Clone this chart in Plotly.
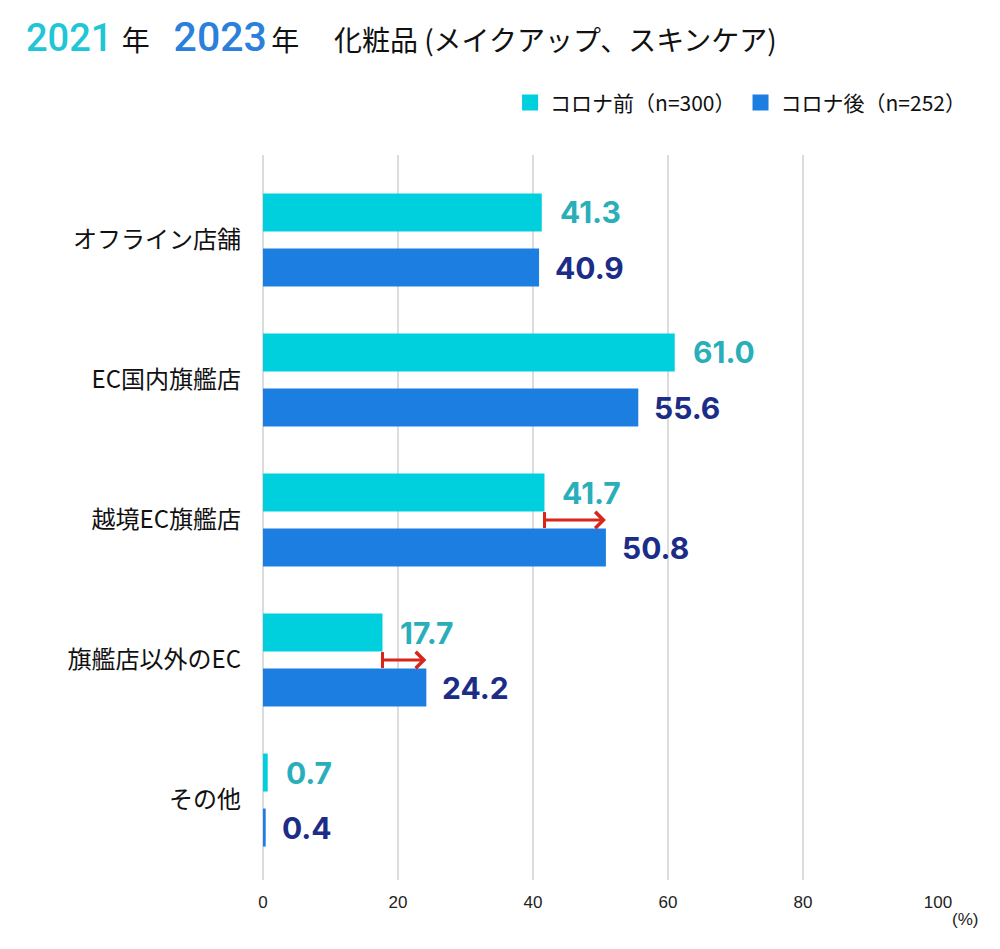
import plotly.graph_objects as go

categories = ["オフライン店舗", "EC国内旗艦店", "越境EC旗艦店", "旗艦店以外のEC", "その他"]
before_vals = [41.3, 61.0, 41.7, 17.7, 0.7]
after_vals = [40.9, 55.6, 50.8, 24.2, 0.4]
before_name = "コロナ前（n=300）"
after_name = "コロナ後（n=252）"
arrow_categories = ["越境EC旗艦店", "旗艦店以外のEC"]
x_ticks = [0, 20, 40, 60, 80, 100]

CYAN = "#00CFDD"
BLUE = "#1C7EE0"
CYAN_TXT = "#2AAFBA"
NAVY_TXT = "#1B2D86"
RED = "#D8261A"

ypos = list(range(len(categories)))
BARGAP = 0.214
BARGROUPGAP = 0.309
slot = (1 - BARGAP) / 2

fig = go.Figure()
fig.add_trace(go.Bar(y=ypos, x=before_vals, orientation="h", name=before_name,
                     marker=dict(color=CYAN, line_width=0), showlegend=False))
fig.add_trace(go.Bar(y=ypos, x=after_vals, orientation="h", name=after_name,
                     marker=dict(color=BLUE, line_width=0), showlegend=False))
# legend entries with larger square swatches
fig.add_trace(go.Scatter(x=[None], y=[None], mode="markers", name=before_name,
                         marker=dict(symbol="square", size=16, color=CYAN)))
fig.add_trace(go.Scatter(x=[None], y=[None], mode="markers", name=after_name,
                         marker=dict(symbol="square", size=16, color=BLUE)))

annotations = []
num_font = "Inter, Liberation Sans, sans-serif"
for i, (b, a) in enumerate(zip(before_vals, after_vals)):
    annotations.append(dict(x=b, y=i - slot / 2, xref="x", yref="y", text=f"{b:.1f}",
                            showarrow=False, xanchor="left", yanchor="middle", xshift=16,
                            font=dict(family=num_font, size=30, color=CYAN_TXT, weight="bold")))
    annotations.append(dict(x=a, y=i + slot / 2, xref="x", yref="y", text=f"{a:.1f}",
                            showarrow=False, xanchor="left", yanchor="middle", xshift=14,
                            font=dict(family=num_font, size=30, color=NAVY_TXT, weight="bold")))

shapes = []
for cat in arrow_categories:
    i = categories.index(cat)
    b, a = before_vals[i], after_vals[i]
    annotations.append(dict(x=a, y=i, ax=b, ay=i, xref="x", yref="y", axref="x", ayref="y",
                            showarrow=True, arrowhead=4, arrowsize=1.05, arrowwidth=3,
                            arrowcolor=RED, standoff=0, startstandoff=0, text=""))
    shapes.append(dict(type="line", xref="x", yref="y", x0=b, x1=b, y0=i - 0.057, y1=i + 0.057,
                       line=dict(color=RED, width=3)))

annotations.append(dict(x=1.04, y=-0.055, xref="paper", yref="paper", text="(%)",
                        showarrow=False, xanchor="center", yanchor="middle",
                        font=dict(family="Liberation Sans, Arial, sans-serif", size=17, color="#222")))

NB = "\u00a0"
def gap(px):
    return f'<span style="font-size:{px}px">{NB}</span>'

title_text = (f'<span style="color:#1EC6D6;font-size:38px;font-family:Roboto;font-weight:500">2021</span>'
              + gap(28) + gap(14)
              + '<span style="font-size:28px">年</span>'
              + gap(28) + gap(28) + gap(28) + gap(22)
              + f'<span style="color:#2A80DA;font-size:41px;font-family:Roboto;font-weight:500">2023</span>'
              + gap(20)
              + '<span style="font-size:28px">年</span>'
              + gap(28) * 5 + gap(14)
              + '<span style="font-size:28px">化粧品 (メイクアップ、スキンケア)</span>')

fig.update_layout(
    width=1000, height=949,
    margin=dict(l=255, r=70, t=147, b=77),
    paper_bgcolor="white", plot_bgcolor="white",
    font=dict(family="Noto Sans CJK JP, sans-serif", color="#111"),
    barmode="group", bargap=BARGAP, bargroupgap=BARGROUPGAP,
    title=dict(text=title_text, x=0.018, xanchor="left", xref="container",
               y=1 - 33 / 949, yanchor="middle",
               font=dict(size=28, color="#111")),
    legend=dict(orientation="h", x=1.049, xanchor="right", y=1.072, yanchor="middle",
                font=dict(size=21, color="#111"), itemwidth=30, traceorder="normal",
                bgcolor="rgba(0,0,0,0)"),
    xaxis=dict(range=[0, 100], tickvals=x_ticks, ticktext=[str(t) for t in x_ticks],
               showgrid=True, gridcolor="#DCDCDC", gridwidth=2,
               zeroline=True, zerolinecolor="#DCDCDC", zerolinewidth=2,
               showline=False, ticks="", ticklabelstandoff=10,
               tickfont=dict(family="Liberation Sans, Arial, sans-serif", size=17, color="#222")),
    yaxis=dict(range=[4.571, -0.607], tickvals=ypos, ticktext=categories,
               showgrid=False, zeroline=False, showline=False, ticks="",
               ticklabelstandoff=21,
               tickfont=dict(size=24, color="#111")),
    annotations=annotations, shapes=shapes,
)

fig.write_html("out.html")
